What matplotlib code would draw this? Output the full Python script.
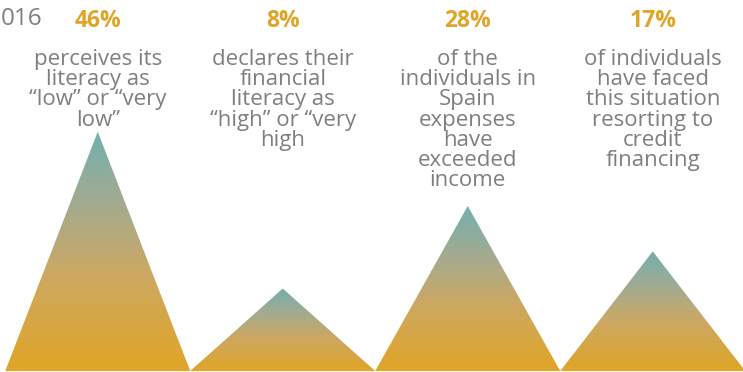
import numpy as np
import matplotlib
matplotlib.use("Agg")
import matplotlib.pyplot as plt
from matplotlib.colors import LinearSegmentedColormap
from matplotlib.patches import Polygon
from matplotlib.transforms import blended_transform_factory

# Survey figures
values = [46, 8, 28, 17]
pct_labels = ["46%", "8%", "28%", "17%"]
descriptions = [
    "perceives its\nliteracy as\n\u201clow\u201d or \u201cvery\nlow\u201d",
    "declares their\nfinancial\nliteracy as\n\u201chigh\u201d or \u201cvery\nhigh",
    "of the\nindividuals in\nSpain\nexpenses\nhave\nexceeded\nincome",
    "of individuals\nhave faced\nthis situation\nresorting to\ncredit\nfinancing",
]

BASE = -12  # value axis starts below zero so the small peaks stay visible
GOLD = "#E0A526"
TEAL = "#72B0AE"
GREY = "#7F7F7F"

plt.rcParams["font.family"] = ["Open Sans", "DejaVu Sans"]

fig = plt.figure(figsize=(7.43, 3.72), dpi=100)
ax = fig.add_axes([0, 0, 1, 1])
ax.axis("off")

cmap = LinearSegmentedColormap.from_list(
    "peak", [(0.0, GOLD), (0.4, "#CDA862"), (0.7, "#A3AB90"), (1.0, TEAL)])
grad = np.linspace(0, 1, 256).reshape(-1, 1)

for i, v in enumerate(values):
    tri = Polygon([(i - 0.5, BASE), (i, v), (i + 0.5, BASE)], closed=True,
                  facecolor="none", edgecolor="none", transform=ax.transData)
    ax.add_patch(tri)
    im = ax.imshow(grad, cmap=cmap, origin="lower", aspect="auto",
                   extent=(i - 0.5, i + 0.5, BASE, v), interpolation="bilinear")
    im.set_clip_path(tri)

px = 4.125  # pixels per unit on the value axis
ymin = BASE - 1 / px
ax.set_ylim(ymin, ymin + 372 / px)
ax.set_xlim(-97.75 / 185, (743 - 97.75) / 185)

trans = blended_transform_factory(ax.transData, ax.transAxes)
for i, (lab, desc) in enumerate(zip(pct_labels, descriptions)):
    ax.text(i, 1 - 27 / 372, lab, transform=trans, ha="center", va="baseline",
            fontsize=16.5, fontweight="bold", color=GOLD)
    ax.text(i, 1 - 49 / 372, desc, transform=trans, ha="center", va="top",
            fontsize=16, color=GREY, linespacing=0.95)

ax.text(1 / 743, 1 - 25 / 372, "016", transform=ax.transAxes, ha="left",
        va="baseline", fontsize=17.5, color=GREY)

fig.savefig("out.png", dpi=100)
